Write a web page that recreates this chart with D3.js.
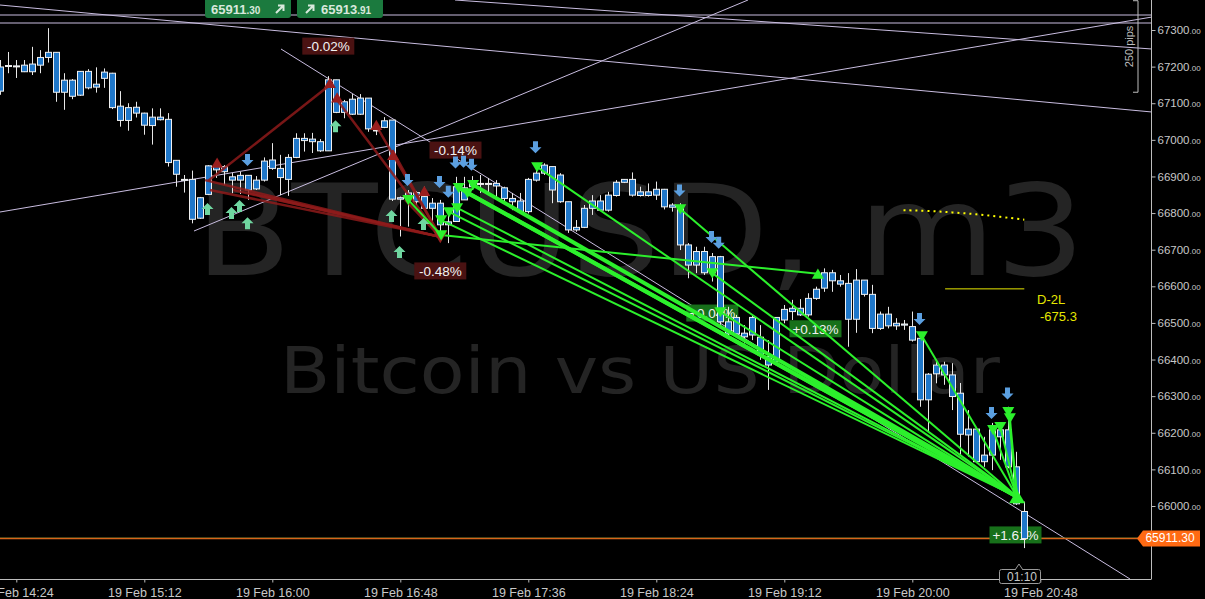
<!DOCTYPE html>
<html><head><meta charset="utf-8">
<script src="https://cdn.jsdelivr.net/npm/d3@7"></script>
<style>html,body{margin:0;padding:0;background:#000;overflow:hidden}svg{display:block}</style>
</head><body>
<svg id="c" width="1205" height="599"></svg>
<script>
// ---------- DATA ----------
const timeLabels = ["19 Feb 14:24","19 Feb 15:12","19 Feb 16:00","19 Feb 16:48","19 Feb 17:36","19 Feb 18:24","19 Feb 19:12","19 Feb 20:00","19 Feb 20:48"];
const timeTickIdx = [2,18,34,50,66,82,98,114,130];
const priceTicks = [66000,66100,66200,66300,66400,66500,66600,66700,66800,66900,67000,67100,67200,67300];
// 3-minute candles, index 0 = 19 Feb 14:18
const opens  = [67133,67202,67202,67204,67186,67204,67225,67239,67130,67163,67122,67187,67144,67168,67182,67092,67053,67089,67073,67039,67062,67056,66944,66892,66892,66786,66851,66929,66913,66899,66890,66903,66866,66890,66945,66922,66892,66952,67004,66995,66995,66970,67164,67075,67111,67070,67114,67027,67034,67054,66838,66842,66856,66813,66827,66827,66768,66777,66836,66872,66881,66881,66881,66869,66840,66833,66804,66890,66909,66927,66904,66831,66754,66761,66813,66833,66808,66848,66884,66892,66848,66858,66849,66865,66816,66813,66713,66658,66695,66637,66681,66503,66470,66472,66467,66461,66408,66394,66508,66540,66522,66522,66567,66595,66637,66615,66608,66510,66617,66578,66485,66524,66492,66497,66490,66458,66290,66361,66385,66358,66308,66194,66210,66121,66139,66208,66208,66107,65985];
const highs  = [67218,67240,67218,67218,67254,67245,67305,67239,67182,67166,67188,67193,67198,67195,67183,67133,67100,67104,67074,67086,67086,67073,66945,66904,66916,66844,66931,66945,66931,66910,66913,66904,66901,66952,66991,66959,66961,67018,67018,67019,67002,67174,67164,67109,67125,67125,67114,67038,67062,67054,66845,66863,66860,66872,66841,66836,66800,66899,66899,66901,66904,66896,66890,66872,66855,66855,66896,66936,66936,66927,66909,66831,66781,66822,66849,66849,66858,66890,66893,66911,66872,66881,66886,66866,66827,66827,66718,66708,66708,66691,66683,66544,66522,66494,66522,66494,66453,66515,66549,66563,66565,66581,66599,66649,66645,66631,66636,66647,66617,66604,66531,66544,66513,66508,66531,66472,66363,66399,66394,66390,66336,66262,66212,66189,66227,66226,66271,66148,66012];
const lows   = [67123,67182,67169,67185,67177,67182,67211,67104,67082,67111,67120,67138,67129,67142,67084,67036,67025,67061,67014,66987,67053,66927,66872,66856,66772,66784,66849,66896,66877,66854,66852,66836,66863,66886,66918,66849,66847,66950,66968,66964,66967,66970,67073,67059,67068,67068,67022,67013,67032,66833,66736,66763,66822,66813,66759,66746,66718,66776,66836,66863,66855,66849,66841,66831,66808,66799,66799,66886,66904,66827,66828,66746,66749,66759,66795,66806,66804,66845,66882,66845,66845,66845,66836,66810,66804,66699,66622,66636,66631,66613,66490,66462,66462,66444,66453,66399,66317,66390,66499,66508,66519,66517,66563,66585,66585,66599,66435,66473,66572,66472,66481,66485,66481,66481,66449,66271,66203,66335,66331,66262,66139,66135,66117,66107,66098,66126,66103,66003,65885];
const closes = [67199,67203,67202,67186,67207,67225,67239,67130,67163,67119,67187,67142,67152,67185,67088,67053,67088,67073,67040,67062,67055,66938,66906,66892,66783,66842,66929,66918,66927,66890,66903,66863,66890,66942,66922,66897,66952,67004,66998,67002,66970,67164,67075,67104,67070,67114,67030,67027,67052,66838,66842,66855,66831,66845,66813,66768,66776,66872,66869,66882,66881,66881,66874,66840,66831,66804,66892,66909,66931,66863,66831,66754,66761,66813,66833,66808,66849,66884,66892,66849,66858,66848,66865,66817,66822,66713,66658,66695,66637,66681,66503,66470,66515,66462,66515,66413,66385,66515,66537,66531,66540,66567,66592,66637,66615,66606,66510,66617,66578,66485,66524,66492,66499,66494,66453,66290,66360,66385,66358,66299,66196,66210,66121,66139,66208,66189,66107,66006,65911];
const bid = 65911.30, ask = 65913.91;
// trades: [entryIdx, entryPrice, exitIdx, exitPrice]
const redTrades = [[26,66888,41.2,67150],[25.6,66890,55,66735],[26.2,66863,55,66735],[29.1,66863,55,66735],[31,66855,55,66735],[32.9,66847,55,66735],[42.1,67109,55,66735],[47.1,67035,55,66735],[49,66972,55,66735],[50.6,66836,55,66735]];
const greenTrades = [[51,66836,55.1,66740],[55.1,66740,102.2,66634],[55.1,66781,127.1,66025],[56.1,66803,127.1,66025],[57.1,66814,127.1,66025],[57.3,66869,127.1,66025],[58.4,66855,127.1,66025],[59.1,66877,127.1,66025],[67.1,66926,127.1,66025],[85,66811,127.1,66025],[89,66636,127.1,66025],[90,66530,127.1,66025],[115.2,66464,127.1,66025],[124.1,66208,127.1,66025],[125,66216,127.1,66025],[126,66257,127.1,66025],[126.2,66240,127.1,66025]];
const thickGreen = [5,6,7];
const pctLabels = [["-0.02%",41,67256,"r"],["-0.14%",56.9,66972,"r"],["-0.48%",55,66642,"r"],["+0.04%",89,66527,"g"],["+0.13%",101.9,66484,"g"],["+1.61%",126.9,65921,"g"]];
const blueArrows = [[30.9,66945],[50.9,66890],[54.9,66885],[56,66858],[56.9,66938],[57.9,66940],[58.9,66932],[66.9,66980],[84.9,66862],[88.9,66735],[89.8,66719],[114.9,66511],[123.9,66254],[125.9,66307]];
const tealArrows = [[25.9,66811],[28.9,66800],[29.9,66819],[30.9,66772],[41.9,67037],[48.9,66792],[49.9,66694],[52.9,66770]];
const redMarks = [[27.1,66937],[41.2,67155],[42.1,67115],[47,67040],[49.1,66958],[53,66860]];
const greenDown = [[51,66836],[55.1,66740],[55.1,66781],[56.1,66803],[57.1,66814],[57.3,66869],[58.4,66855],[59.1,66877],[67.1,66926],[85,66811],[89,66636],[90,66530],[115.2,66464],[124.1,66208],[125,66216],[126,66257],[126.2,66240]];
const yellowDots = [[112.9,66808],[116,66806],[119,66802],[122,66797],[125,66790],[128,66782]];
const yellowLevel = [118.1,128,66593];

// ---------- SCALES ----------
const svg = d3.select("#c");
const W = 1205, H = 599, plotR = 1151, axisY = 579;
const x = d3.scaleLinear().domain([0,128]).range([0.3,1024.3]);
const y = d3.scaleLinear().domain([66000,67300]).range([506,30]);

svg.append("rect").attr("width",W).attr("height",H).attr("fill","#000");
svg.append("defs").append("clipPath").attr("id","pc").append("rect").attr("x",0).attr("y",0).attr("width",plotR).attr("height",axisY);
const g = svg.append("g").attr("clip-path","url(#pc)");

// watermark
g.append("text").text("BTCUSD, m3").attr("x",195).attr("y",275).attr("textLength",890).attr("lengthAdjust","spacingAndGlyphs")
 .attr("font-family","DejaVu Sans").attr("font-size",126).attr("fill","#242424");
g.append("text").text("Bitcoin vs US Dollar").attr("x",280).attr("y",393).attr("textLength",720).attr("lengthAdjust","spacingAndGlyphs")
 .attr("font-family","DejaVu Sans").attr("font-size",64).attr("fill","#242424");

// trendlines (lavender)
const lav = "#c9bde0";
const tl = [[0,5,1152,112],[455,0,1152,49],[0,212,1152,17],[194,231,748,0],[281,49,1130,579],[0,15,1152,15],[0,23,1152,23]];
tl.forEach(d=>g.append("line").attr("x1",d[0]).attr("y1",d[1]).attr("x2",d[2]).attr("y2",d[3]).attr("stroke",lav).attr("stroke-width",1));

// bid/ask lines
g.append("line").attr("x1",0).attr("x2",plotR).attr("y1",y(ask)+0.5).attr("y2",y(ask)+0.5).attr("stroke","#2f6f2f").attr("stroke-width",1);
g.append("line").attr("x1",0).attr("x2",plotR).attr("y1",y(bid)).attr("y2",y(bid)).attr("stroke","#d8641a").attr("stroke-width",1.3);

// percent labels
pctLabels.forEach(d=>{
  const cx = x(d[1]), cy = y(d[2]);
  g.append("rect").attr("x",cx-26).attr("y",cy-8.5).attr("width",52).attr("height",17).attr("fill",d[3]==="r"?"#4a1212":"#17701a");
  g.append("text").text(d[0]).attr("x",cx).attr("y",cy+5).attr("text-anchor","middle").attr("font-family","Liberation Sans, Arial").attr("font-size",13.5).attr("fill","#f2f2f2");
});

// candles
const n = opens.length;
const cd = d3.range(n).map(i=>({i,o:opens[i],h:highs[i],l:lows[i],c:closes[i]}));
const cg = g.append("g");
cg.selectAll(".w").data(cd).join("line").attr("x1",d=>Math.round(x(d.i))+0.5).attr("x2",d=>Math.round(x(d.i))+0.5)
  .attr("y1",d=>y(d.h)).attr("y2",d=>y(d.l)).attr("stroke","#e8e8e8").attr("stroke-width",1);
cg.selectAll(".b").data(cd).join("rect")
  .attr("x",d=>Math.round(x(d.i))-2.5).attr("width",6)
  .attr("y",d=>Math.min(y(d.o),y(d.c))).attr("height",d=>Math.max(1,Math.abs(y(d.o)-y(d.c))))
  .attr("fill","#1f77c9").attr("stroke","#f0f0f0").attr("stroke-width",1);

// red trade lines
const red = "#8e1b1b";
g.selectAll(".rt").data(redTrades).join("line").attr("x1",d=>x(d[0])).attr("y1",d=>y(d[1])).attr("x2",d=>x(d[2])).attr("y2",d=>y(d[3]))
  .attr("stroke",red).attr("stroke-width",2.5).attr("opacity",0.85);
// green trade lines
g.selectAll(".gt").data(greenTrades).join("line").attr("x1",d=>x(d[0])).attr("y1",d=>y(d[1])).attr("x2",d=>x(d[2])).attr("y2",d=>y(d[3]))
  .attr("stroke","#2cf02c").attr("stroke-width",(d,i)=>thickGreen.includes(i)?4:2);

// markers
function tri(cx,cy,s,down){return down?`M${cx-s},${cy-s*0.8}L${cx+s},${cy-s*0.8}L${cx},${cy+s*0.9}Z`:`M${cx-s},${cy+s*0.8}L${cx+s},${cy+s*0.8}L${cx},${cy-s*0.9}Z`;}
function arrow(cx,cy,down){const s=down?1:-1;return `M${cx-2.5},${cy-6*s}L${cx+2.5},${cy-6*s}L${cx+2.5},${cy}L${cx+6},${cy}L${cx},${cy+6*s}L${cx-6},${cy}L${cx-2.5},${cy}Z`;}
g.selectAll(".rm").data(redMarks).join("path").attr("d",d=>tri(x(d[0]),y(d[1]),6,false)).attr("fill","#9a1f1f");
g.append("path").attr("d",tri(x(55),y(66735),7,true)).attr("fill","#9a1f1f");
g.selectAll(".gd").data(greenDown).join("path").attr("d",d=>tri(x(d[0]),y(d[1]),6,true)).attr("fill","#2cf02c");
g.append("path").attr("d",tri(x(102.2),y(66634),6,false)).attr("fill","#2cf02c");
g.append("path").attr("d",tri(x(127.1),y(66025),8,false)).attr("fill","#2cf02c");
g.selectAll(".ba").data(blueArrows).join("path").attr("d",d=>arrow(x(d[0]),y(d[1]),true)).attr("fill","#5b9fe0");
g.selectAll(".ta").data(tealArrows).join("path").attr("d",d=>arrow(x(d[0]),y(d[1]),false)).attr("fill","#6fd6a0");

// yellow objects
const yline = d3.line().x(d=>x(d[0])).y(d=>y(d[1])).curve(d3.curveBasis);
g.append("path").attr("d",yline(yellowDots)).attr("fill","none").attr("stroke","#ffff00").attr("stroke-width",2).attr("stroke-dasharray","2,4");
g.append("line").attr("x1",x(yellowLevel[0])).attr("x2",x(yellowLevel[1])).attr("y1",y(yellowLevel[2])).attr("y2",y(yellowLevel[2])).attr("stroke","#e8e800").attr("stroke-width",1);
g.append("text").text("D-2L").attr("x",1037).attr("y",y(66553)).attr("font-family","Liberation Sans, Arial").attr("font-size",13).attr("fill","#e6e600");
g.append("text").text("-675.3").attr("x",1040).attr("y",y(66505)).attr("font-family","Liberation Sans, Arial").attr("font-size",13).attr("fill","#e6e600");

// 250 pips bracket
const bx = 1138;
g.append("path").attr("d",`M1133,${y(67380)}H${bx}V${y(67130)}H1133`).attr("fill","none").attr("stroke","#bdbdbd").attr("stroke-width",1);
g.append("text").text("250 pips").attr("transform",`translate(1133,${(y(67380)+y(67130))/2}) rotate(-90)`).attr("text-anchor","middle")
 .attr("font-family","Liberation Sans, Arial").attr("font-size",11).attr("fill","#bdbdbd");

// ---------- AXES ----------
const ax = svg.append("g");
ax.append("line").attr("x1",plotR+0.5).attr("x2",plotR+0.5).attr("y1",0).attr("y2",axisY).attr("stroke","#bdbdbd");
ax.append("line").attr("x1",0).attr("x2",plotR+0.5).attr("y1",axisY+0.5).attr("y2",axisY+0.5).attr("stroke","#bdbdbd");

const yAxis = d3.axisRight(y).tickValues(priceTicks).tickSize(4).tickFormat(d=>d);
const ya = svg.append("g").attr("transform",`translate(${plotR+0.5},0)`).call(yAxis);
ya.select(".domain").remove();
ya.selectAll("line").attr("stroke","#bdbdbd");
ya.selectAll("text").each(function(d){
  const t=d3.select(this); t.text(null).attr("x",6).attr("fill","#c8c8c8").attr("font-family","Liberation Sans, Arial").attr("font-size",11.5);
  t.append("tspan").text(d.toFixed(0)); t.append("tspan").text(".00").attr("font-size",8);
});

const xAxis = d3.axisBottom(x).tickValues(timeTickIdx).tickSize(3).tickFormat((d,i)=>timeLabels[i]);
const xa = svg.append("g").attr("transform",`translate(0,${axisY+0.5})`).call(xAxis);
xa.select(".domain").remove();
xa.selectAll("line").attr("stroke","#bdbdbd");
xa.selectAll("text").attr("fill","#c8c8c8").attr("font-family","Liberation Sans Narrow, Arial Narrow, Liberation Sans").attr("font-size",12.5).attr("dy","0.9em");

// price tag
const py = y(bid);
svg.append("path").attr("d",`M1137,${py}L1143,${py-8}H1200V${py+8}H1143Z`).attr("fill","#ff6a13");
svg.append("text").text(bid.toFixed(2)).attr("x",1170).attr("y",py+4).attr("text-anchor","middle").attr("font-family","Liberation Sans Narrow, Liberation Sans").attr("font-size",12).attr("fill","#fff");

// timer box
svg.append("rect").attr("x",999.5).attr("y",569.5).attr("width",41).attr("height",14).attr("rx",2).attr("fill","#000").attr("stroke","#9a9a9a");
svg.append("path").attr("d","M1015,570L1019,564L1023,570").attr("fill","#000").attr("stroke","#9a9a9a");
svg.append("text").text("01:10").attr("x",1022).attr("y",581).attr("text-anchor","middle").attr("font-family","Liberation Sans Narrow, Liberation Sans").attr("font-size",12).attr("fill","#c8c8c8");

// top badges
const badges = [[205,"65911",".30",true],[297,"65913",".91",false]];
badges.forEach(b=>{
  const bg = svg.append("g").attr("transform",`translate(${b[0]},0)`);
  bg.append("rect").attr("x",0).attr("y",-4).attr("width",86).attr("height",22).attr("rx",3).attr("fill","#1b7a3e");
  const t = bg.append("text").attr("x",b[3]?6:24).attr("y",14).attr("font-family","Liberation Sans, Arial").attr("font-weight","bold").attr("fill","#d8e8dc");
  t.append("tspan").text(b[1]).attr("font-size",13); t.append("tspan").text(b[2]).attr("font-size",10);
  const ax0 = b[3]?71:9;
  bg.append("path").attr("d",`M${ax0},13L${ax0+7},6M${ax0+2},5.5H${ax0+7.5}V11`).attr("stroke","#d8e8dc").attr("stroke-width",2).attr("fill","none");
});
</script>
</body></html>
